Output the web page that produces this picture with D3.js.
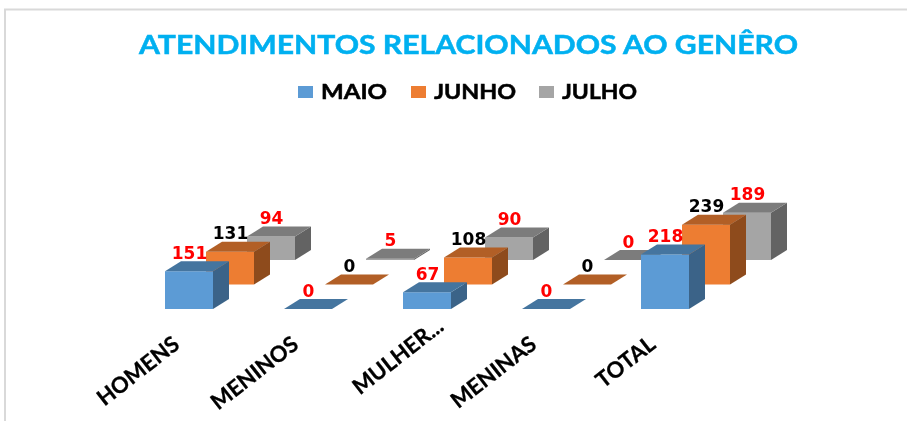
<!DOCTYPE html>
<html><head><meta charset="utf-8">
<script src="https://cdn.jsdelivr.net/npm/d3@7/dist/d3.min.js"></script>
<style>html,body{margin:0;padding:0;background:#fff}svg{display:block}text{font-family:Lato,"Open Sans",sans-serif;font-weight:700}</style>
</head><body><svg id="c" width="907" height="421"></svg>
<script>
const categories=["HOMENS","MENINOS","MULHER...","MENINAS","TOTAL"];
const seriesNames=["MAIO","JUNHO","JULHO"];
const maio=[151,0,67,0,218];
const junho=[131,0,108,0,239];
const julho=[94,5,90,0,189];
const seriesValues=[maio,junho,julho];
const frontColors=["#5B9BD5","#ED7D31","#A5A5A5"];
const topColors=["#44759F","#B25F25","#7C7C7C"];
const sideColors=["#3A6488","#8E4C1E","#636363"];
const labelColors=["#FF0000","#000000","#FF0000"];
const titleText="ATENDIMENTOS RELACIONADOS AO GENÊRO";

const svg=d3.select("#c");
const defs=svg.append("defs");
defs.append("filter").attr("id","soft").append("feGaussianBlur").attr("stdDeviation",0.45);
const root=svg.append("g").attr("filter","url(#soft)");

// frame
root.append("path").attr("d","M5,421V9.5H907").attr("fill","none").attr("stroke","#D9D9D9").attr("stroke-width",2);

// title
root.append("text").attr("x",139).attr("y",54).attr("textLength",659).attr("lengthAdjust","spacingAndGlyphs")
  .attr("font-size",27).attr("fill","#00B0F0").attr("stroke","#00B0F0").attr("stroke-width",0.5).text(titleText);

// legend
const legendX=d3.scaleOrdinal().domain(seriesNames).range([298,411,539]);
const legendW=d3.scaleOrdinal().domain(seriesNames).range([66,82,75]);
const leg=root.append("g").selectAll("g").data(seriesNames).join("g").attr("transform",d=>`translate(${legendX(d)},0)`);
leg.append("rect").attr("y",86).attr("width",15).attr("height",12).attr("fill",(d,i)=>frontColors[i]);
leg.append("text").attr("x",23).attr("y",99).attr("textLength",d=>legendW(d)).attr("lengthAdjust","spacingAndGlyphs")
  .attr("font-size",20).attr("fill","#000").attr("stroke","#000").attr("stroke-width",0.5).text(d=>d);

// scales
const barW=48, depthX=16, depthY=10;
const x=d3.scaleBand().domain(categories).range([165-35.5,165-35.5+595]).paddingInner(0).paddingOuter(0);
const inner=d3.scalePoint().domain(seriesNames).range([0,82]);
const baseY=d3.scalePoint().domain(seriesNames).range([309,260]);
const h=d3.scaleLinear().domain([0,240]).range([0,60]);
const fx=c=>x(c)+35.5;

// bars, back to front
[2,1,0].forEach(s=>{
  const name=seriesNames[s], g=root.append("g");
  const b=g.selectAll("g").data(categories.map((c,i)=>({c,v:seriesValues[s][i]}))).join("g")
    .attr("transform",d=>`translate(${fx(d.c)+inner(name)},${baseY(name)})`);
  b.filter(d=>d.v>0).append("rect").attr("y",d=>-h(d.v)).attr("width",barW).attr("height",d=>h(d.v)).attr("fill",frontColors[s]);
  b.filter(d=>d.v>0).append("path").attr("fill",sideColors[s])
    .attr("d",d=>`M${barW},0V${-h(d.v)}l${depthX},${-depthY}V${-depthY}Z`);
  b.append("path").attr("fill",topColors[s])
    .attr("d",d=>`M0,${-h(d.v)}h${barW}l${depthX},${-depthY}h${-barW}Z`);
  b.append("text").attr("x",barW/2+0.5).attr("y",d=>-h(d.v)-12.5).attr("text-anchor","middle")
    .attr("font-size",17).attr("fill",labelColors[s]).style("font-family","'DejaVu Sans'").text(d=>d.v);
});

// category axis; the truncated label sits further along its slant, as in the original
const axis=d3.axisBottom(x).tickSize(0).tickPadding(0);
const ax=root.append("g").attr("transform","translate(0,330)").call(axis);
ax.select(".domain").remove();
ax.selectAll("text").attr("font-size",22).attr("fill","#000").attr("stroke","#000").attr("stroke-width",0.3).attr("text-anchor","end")
  .attr("dy",0).attr("y",0)
  .attr("transform",d=>d.endsWith("...")?"translate(18,-1) rotate(-38)":"translate(-8,17) rotate(-38)")
  .style("font-family","Lato,sans-serif").style("font-weight",700);
</script></body></html>
